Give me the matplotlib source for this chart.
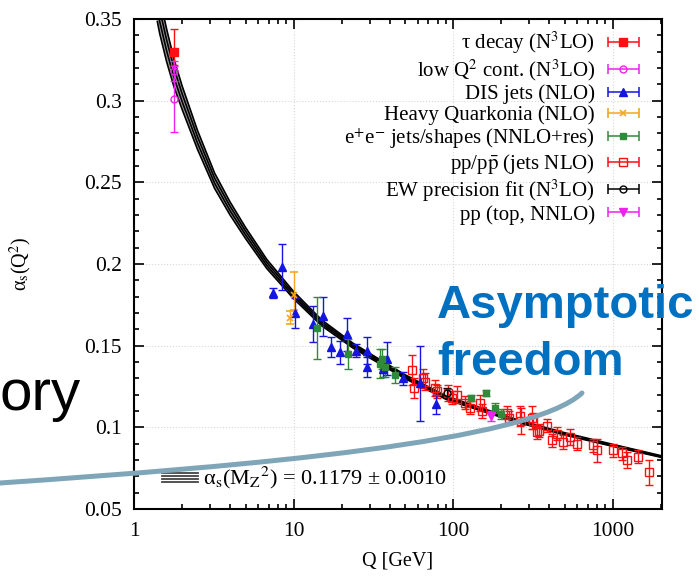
import numpy as np
import matplotlib
matplotlib.use("Agg")
import matplotlib.pyplot as plt
from matplotlib.ticker import MultipleLocator, FixedLocator, FixedFormatter, NullFormatter, LogLocator
from matplotlib.legend_handler import HandlerErrorbar
from matplotlib.path import Path
from matplotlib.patches import PathPatch

plt.rcParams['font.family'] = ['Liberation Serif', 'DejaVu Serif']
plt.rcParams['mathtext.fontset'] = 'stix'

# ---------------- data ----------------
curve_q = [1.40, 1.45, 1.6, 1.78, 2.0, 2.5, 3.2, 4.0, 5.0, 6.8, 10, 15, 23.6, 35, 50, 91.2, 150, 250, 500, 1000, 2040]
curve_a = [0.360, 0.352, 0.334, 0.317, 0.302, 0.276, 0.251, 0.234, 0.219, 0.200, 0.181, 0.164, 0.150, 0.140, 0.131,
           0.118, 0.111, 0.104, 0.096, 0.089, 0.082]
curve_hw = [0.0115, 0.011, 0.010, 0.0085, 0.0072, 0.0058, 0.0047, 0.0040, 0.0034, 0.0028, 0.0022, 0.0018, 0.0015,
            0.0013, 0.0012, 0.0010, 0.0009, 0.0008, 0.0007, 0.0006, 0.0005]

tau_q = [1.777]
tau_a = [0.330]
tau_lo = [0.008]
tau_hi = [0.014]

lowq_q = [1.777, 1.777]
lowq_a = [0.301, 0.318]
lowq_e = [0.020, 0.006]

dis_q = [7.4, 8.5, 10.2, 13.2, 15.3, 17.2, 19.6, 21.6, 24.6, 28.9, 28.9, 36.3, 38.6, 48.7, 62, 78]
dis_a = [0.182, 0.198, 0.170, 0.163, 0.168, 0.149, 0.146, 0.157, 0.147, 0.147, 0.137, 0.136, 0.142, 0.130, 0.127, 0.114]
dis_e = [0.003, 0.014, 0.009, 0.011, 0.012, 0.006, 0.007, 0.010, 0.004, 0.008, 0.006, 0.005, 0.010, 0.004, 0.023, 0.006]

hq_q = [9.5, 10.0]
hq_a = [0.167, 0.181]
hq_lo = [0.004, 0.009]
hq_hi = [0.004, 0.014]

ee_q = [14.1, 21.9, 34.9, 35.9, 37.6, 43.2, 130, 161, 183, 200]
ee_a = [0.161, 0.145, 0.139, 0.142, 0.137, 0.132, 0.118, 0.121, 0.112, 0.108]
ee_e = [0.019, 0.009, 0.009, 0.006, 0.006, 0.005, 0.002, 0.002, 0.003, 0.003]

ppj_q = [55, 57, 65, 67, 77, 79, 93, 98, 106, 119, 128, 147, 152, 218, 225, 262, 265, 312, 318, 334, 345, 390,
         416, 450, 490, 540, 595, 754, 800, 1000, 1150, 1230, 1440, 1680]
ppj_a = [0.135, 0.124, 0.130, 0.128, 0.124, 0.122, 0.121, 0.118, 0.120, 0.115, 0.112, 0.115, 0.110, 0.109, 0.106,
         0.107, 0.104, 0.106, 0.104, 0.097, 0.098, 0.101, 0.092, 0.096, 0.091, 0.094, 0.090, 0.089, 0.086, 0.086,
         0.084, 0.080, 0.082, 0.0725]
ppj_e = [0.009, 0.006, 0.006, 0.005, 0.005, 0.004, 0.005, 0.004, 0.005, 0.004, 0.004, 0.005, 0.004, 0.004, 0.004,
         0.006, 0.008, 0.007, 0.005, 0.004, 0.004, 0.004, 0.004, 0.004, 0.004, 0.005, 0.004, 0.004, 0.007, 0.004,
         0.004, 0.005, 0.004, 0.0078]

ew_q = [91.2]
ew_a = [0.121]
ew_e = [0.003]

top_q = [173]
top_a = [0.107]
top_e = [0.003]

legend_labels = ['τ decay (N$^3$LO)', r'low Q$^2$ cont. (N$^3$LO)', 'DIS jets (NLO)',
                 'Heavy Quarkonia (NLO)', r'e$^{+}$e$^{-}$ jets/shapes (NNLO+res)',
                 r'pp/p$\bar{\rm p}$ (jets NLO)', r'EW precision fit (N$^3$LO)', 'pp (top, NNLO)']

xticks = [1, 10, 100, 1000]
xtick_labels = ['1', '10', '100', '1000']
yticks = [0.05, 0.1, 0.15, 0.2, 0.25, 0.3, 0.35]
ytick_labels = ['0.05', '0.1', '0.15', '0.2', '0.25', '0.3', '0.35']

# ---------------- figure ----------------
W, H = 699, 577
fig = plt.figure(figsize=(W / 100, H / 100), dpi=100)
ax = fig.add_axes([134 / W, 1 - 509 / H, (662 - 134) / W, (509 - 19) / H])
ax.set_xscale('log')
ax.set_xlim(1, 2040)
ax.set_ylim(0.05, 0.35)

ax.grid(True, which='major', color='#d8d8d8', linestyle=':', linewidth=0.8)

# band
cq = np.array(curve_q)
ca = np.array(curve_a)
ch = np.array(curve_hw)
ax.fill_between(cq, ca - ch, ca + ch, color='#9a9a9a', lw=0, zorder=2)
for f in (-1, -1 / 3, 1 / 3, 1):
    ax.plot(cq, ca + f * ch, color='black', lw=1.2, zorder=3)

ebkw = dict(capsize=3, elinewidth=1.0, capthick=1.0, zorder=4, linestyle='none')
red = '#ff1010'
mag = '#ee22ee'
blue = '#1515e0'
orange = '#f5a623'
green = '#2f8a3a'

ax.errorbar(ppj_q, ppj_a, yerr=ppj_e, fmt='s', ms=5.5, mfc='none', mec=red, mew=1.0, color=red, **ebkw)
ax.errorbar(dis_q, dis_a, yerr=dis_e, fmt='^', ms=5.5, color=blue, **ebkw)
ax.errorbar(ee_q, ee_a, yerr=ee_e, fmt='s', ms=4, color=green, **ebkw)
ax.errorbar(hq_q, hq_a, yerr=[hq_lo, hq_hi], fmt='x', ms=5, mew=1.2, color=orange, **ebkw)
ax.errorbar(tau_q, tau_a, yerr=[tau_lo, tau_hi], fmt='s', ms=5.5, color=red, **ebkw)
ax.errorbar(lowq_q, lowq_a, yerr=lowq_e, fmt='o', ms=5, mfc='none', mec=mag, color=mag, **ebkw)
ax.errorbar(ew_q, ew_a, yerr=ew_e, fmt='o', ms=5, mfc='none', mec='black', color='black', **ebkw)
ax.errorbar(top_q, top_a, yerr=top_e, fmt='v', ms=5.5, color=mag, **ebkw)

# legend proxies with horizontal error bars
nan = [np.nan]
pk = dict(capsize=3.5, elinewidth=1.1, capthick=1.1, linestyle='none')
proxies = [
    ax.errorbar(nan, nan, xerr=[1], fmt='s', ms=5.5, color=red, **pk),
    ax.errorbar(nan, nan, xerr=[1], fmt='o', ms=5, mfc='none', mec=mag, color=mag, **pk),
    ax.errorbar(nan, nan, xerr=[1], fmt='^', ms=5.5, color=blue, **pk),
    ax.errorbar(nan, nan, xerr=[1], fmt='x', ms=5, mew=1.2, color=orange, **pk),
    ax.errorbar(nan, nan, xerr=[1], fmt='s', ms=4, color=green, **pk),
    ax.errorbar(nan, nan, xerr=[1], fmt='s', ms=5.5, mfc='none', mec=red, color=red, **pk),
    ax.errorbar(nan, nan, xerr=[1], fmt='o', ms=5, mfc='none', mec='black', color='black', **pk),
    ax.errorbar(nan, nan, xerr=[1], fmt='v', ms=5.5, color=mag, **pk),
]
leg = ax.legend(proxies, legend_labels, loc='upper right', bbox_to_anchor=(0.958, 0.978),
                markerfirst=False, frameon=False, fontsize=15, labelspacing=0.06,
                handlelength=1.6, handletextpad=0.55, borderpad=0, borderaxespad=0, numpoints=1,
                handler_map={type(proxies[0]): HandlerErrorbar(xerr_size=0.75)})

# second legend (band)
for yy in (0.055, 0.0613, 0.0677, 0.074):
    ax.plot([0.053, 0.121], [yy, yy], color='#444444', lw=1.3, transform=ax.transAxes, zorder=5)
ax.text(0.1307, 0.0645, 'α$_{\\rm s}$(M$_{\\rm Z}$$^2$) = 0.1179 ± 0.0010', transform=ax.transAxes,
        fontsize=16, va='center', ha='left', zorder=5)

# ticks
ax.xaxis.set_major_locator(FixedLocator(xticks))
ax.xaxis.set_major_formatter(FixedFormatter(xtick_labels))
ax.xaxis.set_minor_locator(LogLocator(base=10, subs=np.arange(2, 10)))
ax.xaxis.set_minor_formatter(NullFormatter())
ax.yaxis.set_major_locator(FixedLocator(yticks))
ax.yaxis.set_major_formatter(FixedFormatter(ytick_labels))
ax.yaxis.set_minor_locator(MultipleLocator(0.01))
ax.tick_params(which='both', direction='in', top=True, right=True, width=1.2, labelsize=15.5, pad=9)
ax.tick_params(which='major', length=7)
ax.tick_params(which='minor', length=3.5)
for s in ax.spines.values():
    s.set_linewidth(1.5)

ax.set_xlabel('Q [GeV]', fontsize=14.5)
ax.set_ylabel('α$_{\\rm s}$(Q$^2$)', fontsize=14.5)
ax.xaxis.set_label_coords(0.5, -0.086)
ax.yaxis.set_label_coords(-0.19, 0.5)

# ---------------- overlay annotations ----------------
def fp(x, y):
    return (x / W, 1 - y / H)

verts = [fp(0, 483), fp(250, 466), fp(530, 442), fp(582, 393)]
path = Path(verts, [Path.MOVETO, Path.CURVE4, Path.CURVE4, Path.CURVE4])
patch = PathPatch(path, facecolor='none', edgecolor='#7fa6b8', lw=3.6, capstyle='round',
                  transform=fig.transFigure, zorder=6)
fig.add_artist(patch)

fig.text(*fp(437, 318), 'Asymptotic', color='#0070c0', fontsize=34, fontweight='bold',
         family='Liberation Sans', ha='left', va='baseline', zorder=7)
fig.text(*fp(437, 375), 'freedom', color='#0070c0', fontsize=34, fontweight='bold',
         family='Liberation Sans', ha='left', va='baseline', zorder=7)
fig.text(*fp(0, 410), 'ory', color='black', fontsize=42, family='Liberation Sans',
         ha='left', va='baseline', zorder=7)

fig.savefig('out.png', dpi=100)
